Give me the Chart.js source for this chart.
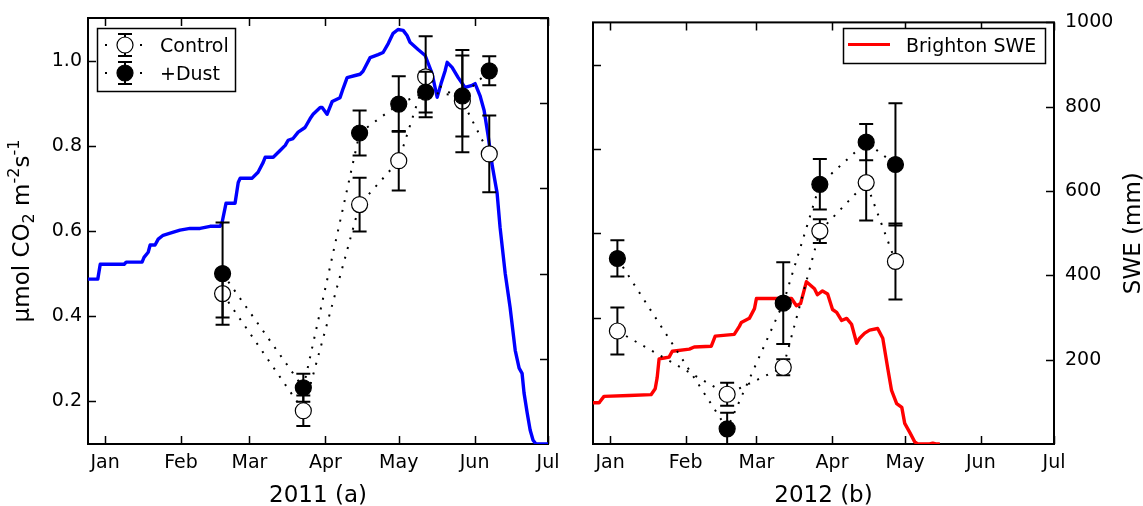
<!DOCTYPE html>
<html><head><meta charset="utf-8">
<script src="https://cdn.jsdelivr.net/npm/chart.js@4.4.0/dist/chart.umd.min.js"></script>
<style>
html,body{margin:0;padding:0;background:#fff;}
#wrap{position:relative;width:1143px;height:506px;overflow:hidden;background:#fff;}
.pane{position:absolute;top:0;height:506px;}
</style></head><body>
<div id="wrap">
<div class="pane" style="left:0;width:570px"><canvas id="c1" width="570" height="506"></canvas></div>
<div class="pane" style="left:570px;width:573px"><canvas id="c2" width="573" height="506"></canvas></div>
</div>
<script>
// ---------- data ----------
const monthNames = ['Jan','Feb','Mar','Apr','May','Jun','Jul'];
const monthDays2011 = [0,31,59,90,120,151,181];
const monthDays2012 = [0,31,60,91,121,152,182];
const fluxTicks = [0.2,0.4,0.6,0.8,1.0];
const sweTicks = [200,400,600,800,1000];

// day of year (0 = Jan 1)
const sampleDays2011 = [48,81,104,120,131,146,157];
const control2011    = [0.453,0.178,0.662,0.765,0.962,0.905,0.781];
const control2011Err = [0.056,0.036,0.063,0.070,0.095,0.120,0.090];
const dust2011       = [0.500,0.232,0.830,0.898,0.926,0.917,0.976];
const dust2011Err    = [0.120,0.033,0.053,0.065,0.048,0.095,0.034];

const sampleDays2012 = [3,48,71,86,105,117];
const control2012    = [0.368,0.218,0.282,0.605,0.720,0.533];
const control2012Err = [0.056,0.027,0.019,0.028,0.090,0.090];
const dust2012       = [0.540,0.136,0.434,0.716,0.816,0.763];
const dust2012Err    = [0.043,0.038,0.097,0.060,0.043,0.145];

const sweDays2011 = [-7,-3,-2,7.8,8.6,15.1,15.9,17.6,18.4,20.4,21.7,23.7,26.6,30.6,34.7,38.8,42.9,47,47.8,49.4,53.1,54.4,55.2,60.1,62.5,64.6,65.4,68.7,71.5,73.6,74.8,76.8,78.9,81.7,83.8,85,87.9,88.7,90.7,92.8,96,97.3,98.9,102.2,104.2,105.4,108.3,111.6,113.6,115.7,117.7,119.7,121.8,123.4,124.6,127.9,130.8,133.6,135.7,137.3,138.9,139.8,141.8,144.3,147.1,150,151.2,153.2,154.9,156.5,158.2,160.2,161.4,163.5,165.5,167.6,169.2,170.4,171.2,172.5,173.7,174.9,176.1,181];
const swe2011     = [387,387,422,422,427,427,438,450,467,467,481,490,495,502,506,506,511,511,520,565,565,614,624,624,638,661,673,673,689,701,713,717,732,743,764,774,790,790,774,804,813,835,860,865,868,875,907,914,919,940,964,973,971,959,943,926,912,870,814,846,875,896,884,860,837,842,846,818,783,725,654,589,509,401,321,220,178,166,120,73,33,9,0,0];

const sweDays2012 = [-7,-4.5,-2.5,7.8,16.8,18.5,19.3,20.1,22.2,24.2,25.5,32.5,34.5,41.5,43.1,50.9,53,53.8,57.1,59.2,60,74.4,76.4,78.1,80.5,83.8,85,87.1,89.2,91.2,92.9,94.9,97,99,101.1,102.3,104.4,106.4,109.7,111.8,113.8,115.4,117.5,119.6,120.8,122.8,124.9,126.1,131,132.3,133.5,135.2];
const swe2012     = [98,98,113,115,117,131,157,202,204,206,220,225,230,232,256,260,279,288,298,321,345,345,328,333,385,368,354,363,356,319,312,293,298,284,239,251,263,270,274,251,181,127,96,87,49,28,5,0,0,2,0,0];

// ---------- helpers ----------
const FONT = 'DejaVu Sans';
Chart.defaults.font.family = FONT;
Chart.defaults.color = '#000';

function pts(xs, ys){ return xs.map((d,i)=>({x:d, y:ys[i]})); }

function makePlugins(cfg){
  return [{
    id:'frameTicks',
    beforeDatasetsDraw(chart){
      const {ctx, chartArea:a} = chart;
      const xs = chart.scales.x, ys = chart.scales.y, ss = chart.scales.swe;
      const L = 8;
      ctx.save();
      ctx.strokeStyle = '#000'; ctx.lineWidth = 1.5;
      ctx.beginPath();
      cfg.months.forEach(d=>{
        const px = Math.round(xs.getPixelForValue(d))+0.5;
        ctx.moveTo(px,a.bottom); ctx.lineTo(px,a.bottom-L);
        ctx.moveTo(px,a.top); ctx.lineTo(px,a.top+L);
      });
      fluxTicks.forEach(v=>{
        const py = Math.round(ys.getPixelForValue(v))+0.5;
        ctx.moveTo(a.left,py); ctx.lineTo(a.left+L,py);
      });
      sweTicks.forEach(v=>{
        const py = Math.round(ss.getPixelForValue(v))+0.5;
        ctx.moveTo(a.right,py); ctx.lineTo(a.right-L,py);
      });
      ctx.stroke();
      ctx.lineWidth = 2;
      ctx.strokeRect(a.left, a.top, a.right-a.left, a.bottom-a.top);
      ctx.restore();
    },
    beforeDatasetDraw(chart, args){
      const ds = chart.data.datasets[args.index];
      if(!ds.err) return;
      const {ctx, chartArea:a} = chart;
      const xs = chart.scales.x, ys = chart.scales.y;
      ctx.save();
      ctx.beginPath(); ctx.rect(a.left, a.top, a.right-a.left, a.bottom-a.top); ctx.clip();
      ctx.strokeStyle = '#000'; ctx.lineWidth = 2;
      ctx.beginPath();
      ds.data.forEach((p,i)=>{
        const px = xs.getPixelForValue(p.x);
        const t = ys.getPixelForValue(p.y + ds.err[i]);
        const b = ys.getPixelForValue(p.y - ds.err[i]);
        ctx.moveTo(px,t); ctx.lineTo(px,b);
        ctx.moveTo(px-7,t); ctx.lineTo(px+7,t);
        ctx.moveTo(px-7,b); ctx.lineTo(px+7,b);
      });
      ctx.stroke();
      ctx.restore();
    },
    afterDraw(chart){
      const {ctx, chartArea:a} = chart;
      ctx.save();
      ctx.fillStyle = '#000';
      ctx.font = '23px "'+FONT+'"';
      ctx.textAlign = 'center'; ctx.textBaseline = 'alphabetic';
      ctx.fillText(cfg.xTitle, (a.left+a.right)/2, 502);
      cfg.extra(ctx, a);
      ctx.restore();
    }
  }];
}

function legendMarker(ctx, cx, cy, filled){
  ctx.save();
  ctx.strokeStyle = '#000';
  ctx.lineWidth = 2;
  ctx.setLineDash([2,33]);
  ctx.beginPath(); ctx.moveTo(105,cy); ctx.lineTo(145,cy); ctx.stroke();
  ctx.setLineDash([]);
  ctx.beginPath();
  ctx.moveTo(cx,cy-11); ctx.lineTo(cx,cy+11);
  ctx.moveTo(cx-7,cy-11); ctx.lineTo(cx+7,cy-11);
  ctx.moveTo(cx-7,cy+11); ctx.lineTo(cx+7,cy+11);
  ctx.stroke();
  ctx.beginPath(); ctx.arc(cx,cy,8,0,Math.PI*2);
  ctx.fillStyle = filled ? '#000' : '#fff'; ctx.fill();
  ctx.lineWidth = 1.2; ctx.stroke();
  ctx.restore();
}

function rotatedRich(ctx, parts, bx, cy){
  ctx.save();
  ctx.translate(bx, cy); ctx.rotate(-Math.PI/2);
  let total = 0;
  parts.forEach(p=>{ ctx.font = p.s+'px "'+FONT+'"'; p.w = ctx.measureText(p.t).width; total += p.w; });
  let x = -total/2;
  ctx.textAlign = 'left'; ctx.textBaseline = 'alphabetic'; ctx.fillStyle = '#000';
  parts.forEach(p=>{ ctx.font = p.s+'px "'+FONT+'"'; ctx.fillText(p.t, x, p.dy||0); x += p.w; });
  ctx.restore();
}

function baseScales(months, xmax){
  return {
    x: {
      type:'linear', min:-7, max:xmax, position:'bottom',
      grid:{display:false, drawTicks:false}, border:{display:false},
      afterBuildTicks: s=>{ s.ticks = months.map(v=>({value:v})); },
      ticks:{ autoSkip:false, maxRotation:0, padding:8, font:{size:19},
        callback: v=> monthNames[months.indexOf(v)] },
      afterFit: s=>{ s.height = 62; }
    }
  };
}

// ---------- chart 1 (2011) ----------
const s1 = baseScales(monthDays2011, 181);
s1.y = { type:'linear', min:0.1, max:1.1, position:'left',
  grid:{display:false, drawTicks:false}, border:{display:false},
  afterBuildTicks: s=>{ s.ticks = fluxTicks.map(v=>({value:v})); },
  ticks:{ padding:6, font:{size:19}, callback: v=> Number(v).toFixed(1) },
  afterFit: s=>{ s.width = 88; } };
s1.swe = { type:'linear', min:0, max:1000, position:'right', display:false };

new Chart(document.getElementById('c1'), {
  type:'line',
  data:{ datasets:[
    { label:'SWE 2011', data:pts(sweDays2011, swe2011), yAxisID:'swe', borderColor:'#0000ff', borderWidth:3.4, pointRadius:0, tension:0, fill:false, order:3, borderJoinStyle:'round' },
    { label:'Control', data:pts(sampleDays2011, control2011), err:control2011Err, yAxisID:'y', borderColor:'#000', borderWidth:2, borderDash:[2,8], pointRadius:8, pointBackgroundColor:'#fff', pointBorderColor:'#000', pointBorderWidth:1.2, order:2 },
    { label:'+Dust', data:pts(sampleDays2011, dust2011), err:dust2011Err, yAxisID:'y', borderColor:'#000', borderWidth:2, borderDash:[2,8], pointRadius:8, pointBackgroundColor:'#000', pointBorderColor:'#000', pointBorderWidth:1.2, order:1 }
  ]},
  options:{
    responsive:false, animation:false, devicePixelRatio:1,
    layout:{ padding:{ top:18, right:22, left:0, bottom:0 } },
    plugins:{ legend:{display:false}, tooltip:{enabled:false} },
    events:[],
    scales:s1
  },
  plugins: makePlugins({
    months: monthDays2011, xTitle:'2011 (a)',
    extra(ctx, a){
      // y-axis title
      rotatedRich(ctx, [
        {t:'\u03bcmol CO', s:23},
        {t:'2', s:16, dy:5},
        {t:' m', s:23},
        {t:'-2', s:16, dy:-10},
        {t:'s', s:23},
        {t:'-1', s:16, dy:-10}
      ], 29, (a.top+a.bottom)/2);
      // legend
      ctx.save();
      ctx.fillStyle = '#fff'; ctx.fillRect(97,28,138,63);
      ctx.strokeStyle = '#000'; ctx.lineWidth = 1.5; ctx.strokeRect(97.5,28.5,138,63);
      ctx.restore();
      legendMarker(ctx, 125, 45, false);
      legendMarker(ctx, 125, 73, true);
      ctx.fillStyle = '#000'; ctx.textAlign = 'left'; ctx.textBaseline = 'alphabetic';
      ctx.font = '19px "'+FONT+'"';
      ctx.fillText('Control', 160, 52);
      ctx.fillText('+Dust', 160, 80);
    }
  })
});

// ---------- chart 2 (2012) ----------
const s2 = baseScales(monthDays2012, 182);
s2.y = { type:'linear', min:0.1, max:1.1, position:'left', display:false };
s2.swe = { type:'linear', min:0, max:1000, position:'right',
  grid:{display:false, drawTicks:false}, border:{display:false},
  afterBuildTicks: s=>{ s.ticks = sweTicks.map(v=>({value:v})); },
  ticks:{ padding:11, font:{size:19}, callback: v=> String(v) },
  afterFit: s=>{ s.width = 89; } };

new Chart(document.getElementById('c2'), {
  type:'line',
  data:{ datasets:[
    { label:'Brighton SWE', data:pts(sweDays2012, swe2012), yAxisID:'swe', borderColor:'#ff0000', borderWidth:3.4, pointRadius:0, tension:0, fill:false, order:3, borderJoinStyle:'round' },
    { label:'Control', data:pts(sampleDays2012, control2012), err:control2012Err, yAxisID:'y', borderColor:'#000', borderWidth:2, borderDash:[2,8], pointRadius:8, pointBackgroundColor:'#fff', pointBorderColor:'#000', pointBorderWidth:1.2, order:2 },
    { label:'+Dust', data:pts(sampleDays2012, dust2012), err:dust2012Err, yAxisID:'y', borderColor:'#000', borderWidth:2, borderDash:[2,8], pointRadius:8, pointBackgroundColor:'#000', pointBorderColor:'#000', pointBorderWidth:1.2, order:1 }
  ]},
  options:{
    responsive:false, animation:false, devicePixelRatio:1,
    layout:{ padding:{ top:18, right:0, left:23, bottom:0 } },
    plugins:{ legend:{display:false}, tooltip:{enabled:false} },
    events:[],
    scales:s2
  },
  plugins: makePlugins({
    months: monthDays2012, xTitle:'2012 (b)',
    extra(ctx, a){
      rotatedRich(ctx, [{t:'SWE (mm)', s:23}], 570, (a.top+a.bottom)/2);
      // legend
      const ox = -570;
      ctx.save();
      ctx.fillStyle = '#fff'; ctx.fillRect(843+ox,28,202,35);
      ctx.strokeStyle = '#000'; ctx.lineWidth = 1.5; ctx.strokeRect(843.5+ox,28.5,202,35);
      ctx.strokeStyle = '#ff0000'; ctx.lineWidth = 3;
      ctx.beginPath(); ctx.moveTo(848+ox,44.5); ctx.lineTo(890+ox,44.5); ctx.stroke();
      ctx.fillStyle = '#000'; ctx.textAlign = 'left'; ctx.textBaseline = 'alphabetic';
      ctx.font = '19px "'+FONT+'"';
      ctx.fillText('Brighton SWE', 906+ox, 52);
      ctx.restore();
    }
  })
});
</script>
</body></html>
